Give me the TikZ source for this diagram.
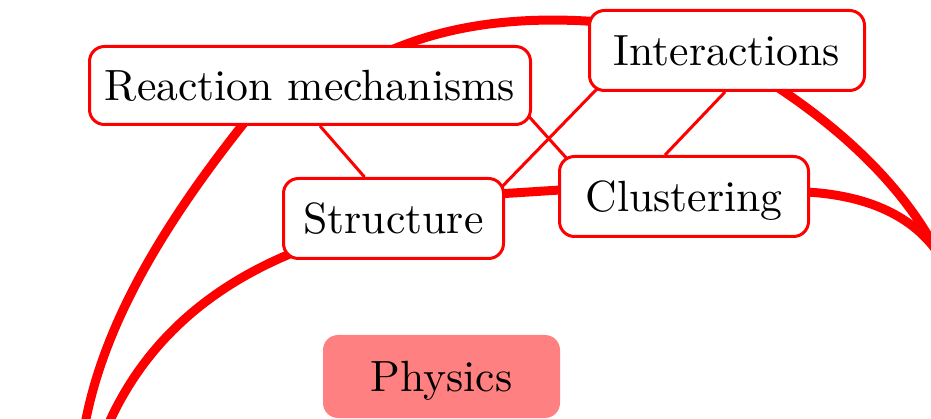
\documentclass[tikz,border=0pt]{standalone}
\usetikzlibrary{backgrounds}
\newcommand{\bigtxt}[1]{\scalebox{4.37}{#1}}
\tikzset{
  box/.style={draw=red, line width=3pt, fill=white, rounded corners=15pt,
    inner sep=0pt, text height=30pt, text depth=0pt, align=center},
  physbox/.style={fill=red!50, rounded corners=15pt, inner sep=0pt,
    text height=30pt, text depth=0pt},
  thin/.style={draw=red, line width=3pt},
  thick arc/.style={draw=red, line width=9pt},
}
\begin{document}
\begin{tikzpicture}[x=1pt,y=-1pt]
\useasboundingbox (0,0) rectangle (931,419);
\clip (0,0) rectangle (931,419);
\node[box, minimum width=441pt, minimum height=78pt] (rm) at (310,85.5) {\bigtxt{Reaction mechanisms}};
\node[box, minimum width=275pt, minimum height=80pt] (in) at (727,50.5) {\bigtxt{Interactions}};
\node[box, minimum width=220pt, minimum height=80pt] (st) at (393.5,218.5) {\bigtxt{Structure}};
\node[box, minimum width=249pt, minimum height=80pt] (cl) at (684,196.5) {\bigtxt{Clustering}};
\node[physbox, minimum width=237pt, minimum height=83pt] (ph) at (441.5,376.5) {\bigtxt{Physics}};
\coordinate (bl1) at (80,460);
\coordinate (bl2) at (98,450);
\coordinate (rt) at (936,250);
\begin{scope}[on background layer]
  % thick arcs
  \draw[thick arc] ([xshift=-60pt,yshift=-30pt]rm.center) .. controls (150,240) and (90,350) .. (bl1);
  \draw[thick arc] ([xshift=-90pt,yshift=-30pt]st.center) .. controls (195,290) and (130,360) .. (bl2);
  \draw[thick arc] ([xshift=80pt,yshift=35pt]rm.center) .. controls (450,25) and (520,15) .. ([xshift=-120pt,yshift=28pt]in.center);
  \draw[thick arc] ([xshift=40pt,yshift=-30pt]in.center) .. controls (845,130) and (905,190) .. (rt);
  \draw[thick arc] ([xshift=110pt,yshift=5pt]cl.center) .. controls (865,193) and (910,215) .. (rt);
  \draw[thick arc] ([xshift=80pt,yshift=23pt]st.center) -- ([xshift=-100pt,yshift=8pt]cl.center);
  % thin crossing connectors
  \draw[thin] ([xshift=200pt,yshift=-10pt]rm.center) -- ([xshift=-110pt,yshift=30pt]cl.center);
  \draw[thin] ([xshift=-117pt,yshift=-25pt]in.center) -- ([xshift=100pt,yshift=23pt]st.center);
\end{scope}
\draw[thin] ([xshift=10pt]rm.south) -- ([xshift=-29pt]st.north);
\draw[thin] ([xshift=-2pt]in.south) -- ([xshift=-19pt]cl.north);
\end{tikzpicture}
\end{document}
